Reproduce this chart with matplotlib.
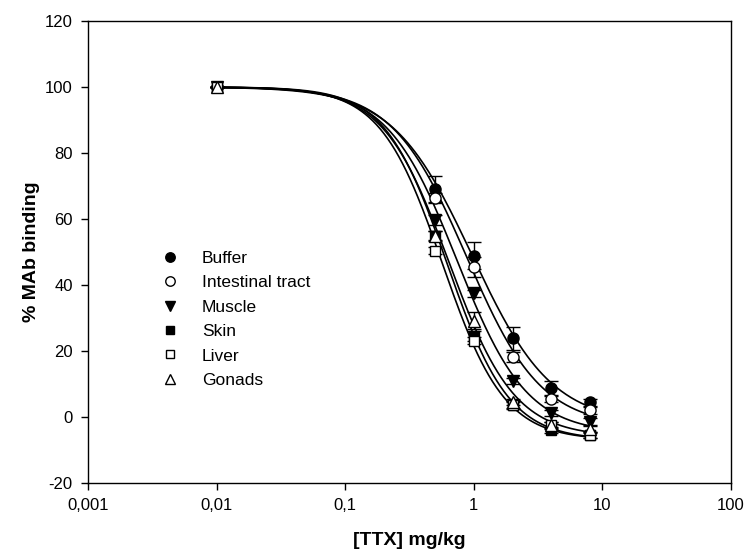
import matplotlib
matplotlib.use("Agg")
import matplotlib.pyplot as plt
import numpy as np
from matplotlib.lines import Line2D
from matplotlib.ticker import NullLocator

plt.rcParams["font.family"] = ["Liberation Sans", "DejaVu Sans"]
plt.rcParams["axes.unicode_minus"] = False

# Dose points (mg/kg) and mean % binding per matrix
doses = [0.01, 0.5, 1, 2, 4, 8]

buffer_y = [100, 69.1, 48.9, 23.9, 8.8, 4.4]
buffer_err = [0, 3.9, 4.0, 3.5, 2.2, 1.2]

intestinal_y = [100, 66.4, 45.4, 18.2, 5.5, 2.0]
intestinal_err = [0, 1.5, 3.0, 1.6, 1.0, 1.0]

muscle_y = [100, 59.7, 37.5, 10.9, 1.2, -1.4]
muscle_err = [0, 1.5, 1.0, 1.0, 1.0, 1.0]

skin_y = [100, 54.8, 24.5, 3.5, -3.9, -5.5]
skin_err = [0, 1.5, 1.5, 1.0, 1.0, 1.0]

liver_y = [100, 50.4, 23.1, 3.7, -2.4, -5.4]
liver_err = [0, 1.0, 1.0, 1.0, 1.0, 1.0]

gonads_y = [100, 55.0, 29.2, 4.5, -2.5, -3.7]
gonads_err = [0, 1.5, 2.5, 1.0, 1.0, 1.0]

# four-parameter logistic fits: (top, bottom, IC50, hill slope)
buffer_fit = (100, -2.0, 0.97, 1.4)
intestinal_fit = (100, -3.0, 0.88, 1.5)
muscle_fit = (100, -5.0, 0.74, 1.6)
skin_fit = (100, -7.0, 0.62, 1.8)
liver_fit = (100, -7.0, 0.57, 1.8)
gonads_fit = (100, -6.0, 0.64, 1.7)

labels = ["Buffer", "Intestinal tract", "Muscle", "Skin", "Liver", "Gonads"]
x_ticks = [0.001, 0.01, 0.1, 1, 10, 100]
x_ticklabels = ["0,001", "0,01", "0,1", "1", "10", "100"]
y_ticks = [-20, 0, 20, 40, 60, 80, 100, 120]


def four_pl(x, top, bottom, ic50, hill):
    return bottom + (top - bottom) / (1 + (x / ic50) ** hill)


series = [
    (buffer_y, buffer_err, buffer_fit, "o", "black"),
    (intestinal_y, intestinal_err, intestinal_fit, "o", "white"),
    (muscle_y, muscle_err, muscle_fit, "v", "black"),
    (skin_y, skin_err, skin_fit, "s", "black"),
    (liver_y, liver_err, liver_fit, "s", "white"),
    (gonads_y, gonads_err, gonads_fit, "^", "white"),
]

fig = plt.figure(figsize=(7.47, 5.6), dpi=100)
ax = fig.add_axes([88 / 747, 77 / 560, 643 / 747, 462 / 560])

xs = np.logspace(np.log10(0.01), np.log10(8), 300)
for ys, errs, fit, marker, face in series:
    ax.plot(xs, four_pl(xs, *fit), color="black", lw=1.2, zorder=2)

handles = []
for (ys, errs, fit, marker, face), lab in zip(series, labels):
    ax.errorbar(doses, ys, yerr=errs, fmt="none", ecolor="black",
                elinewidth=1.0, capsize=5, capthick=1.0, zorder=3)
    ms = 8.5 if marker in ("v", "^") else 8
    if marker == "s":
        ms = 7.5
    ax.plot(doses, ys, linestyle="none", marker=marker, markersize=ms,
            markerfacecolor=face, markeredgecolor="black",
            markeredgewidth=1.0, zorder=4)
    handles.append(Line2D([0], [0], linestyle="none", marker=marker,
                          markersize=ms * 0.85, markerfacecolor=face,
                          markeredgecolor="black", label=lab))

ax.set_xscale("log")
ax.set_xlim(0.001, 100)
ax.set_ylim(-20, 120)
ax.set_xticks(x_ticks)
ax.set_xticklabels(x_ticklabels)
ax.xaxis.set_minor_locator(NullLocator())
ax.set_yticks(y_ticks)

ax.tick_params(axis="both", direction="out", length=5, width=1.0,
               labelsize=12, pad=6)
for sp in ax.spines.values():
    sp.set_linewidth(1.0)

ax.set_xlabel("[TTX] mg/kg", fontsize=14, fontweight="bold")
ax.set_ylabel("% MAb binding", fontsize=14, fontweight="bold")
ax.xaxis.set_label_coords(0.5, -0.106)
ax.yaxis.set_label_coords(-0.075, 0.5)

ax.legend(handles=handles, loc="upper left", bbox_to_anchor=(0.103, 0.518),
          frameon=False, fontsize=12.5, handlelength=1.0, handletextpad=1.35,
          labelspacing=0.535, borderaxespad=0)

fig.savefig("out.png", dpi=100)
